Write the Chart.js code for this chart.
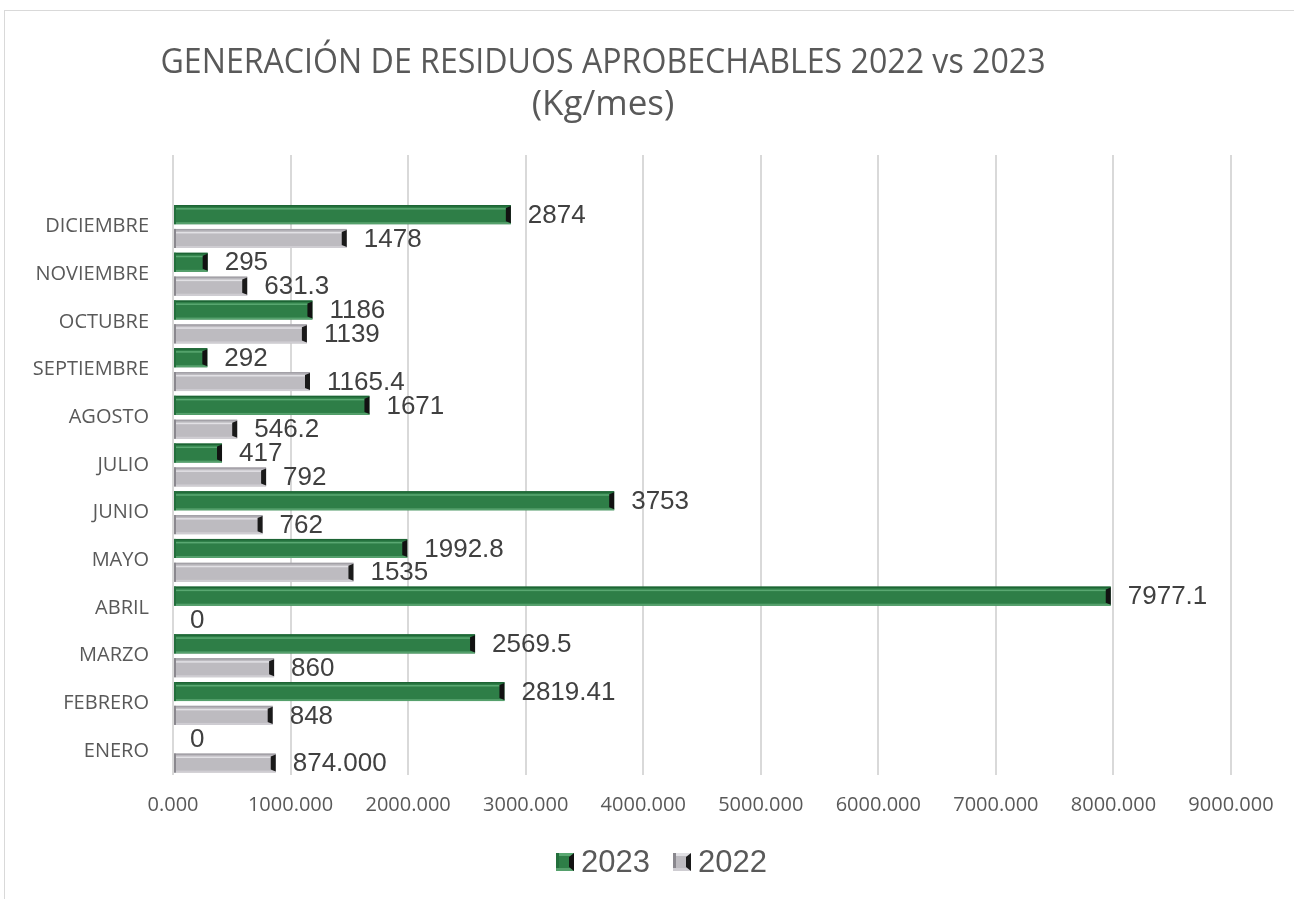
<!DOCTYPE html>
<html><head><meta charset="utf-8">
<script src="https://cdn.jsdelivr.net/npm/chart.js@4.4.1/dist/chart.umd.min.js"></script>
<style>
html,body{margin:0;padding:0;background:#fff;overflow:hidden;}
#frame{position:absolute;left:4px;top:10px;width:1400px;height:1000px;border:1.5px solid #d9d9d9;box-sizing:border-box;}
#wrap{position:absolute;left:0;top:0;width:1294px;height:899px;}
</style></head><body>
<div id="frame"></div>
<div id="wrap"><canvas id="c" width="1294" height="899"></canvas></div>
<script>
const months = ['ENERO','FEBRERO','MARZO','ABRIL','MAYO','JUNIO','JULIO','AGOSTO','SEPTIEMBRE','OCTUBRE','NOVIEMBRE','DICIEMBRE'];
const values2023 = [0, 2819.41, 2569.5, 7977.1, 1992.8, 3753, 417, 1671, 292, 1186, 295, 2874];
const values2022 = [874, 848, 860, 0, 1535, 762, 792, 546.2, 1165.4, 1139, 631.3, 1478];
const labels2023 = ['0','2819.41','2569.5','7977.1','1992.8','3753','417','1671','292','1186','295','2874'];
const labels2022 = ['874.000','848','860','0','1535','762','792','546.2','1165.4','1139','631.3','1478'];
const xTickLabels = ['0.000','1000.000','2000.000','3000.000','4000.000','5000.000','6000.000','7000.000','8000.000','9000.000'];
const titleLines = ['GENERACIÓN DE RESIDUOS APROBECHABLES 2022 vs 2023','(Kg/mes)'];
const seriesNames = ['2023','2022'];

// top row is an empty category, then months from DICIEMBRE down to ENERO
const cats = [''].concat(months.slice().reverse());
const d2023 = [null].concat(values2023.slice().reverse());
const d2022 = [null].concat(values2022.slice().reverse());
const l2023 = [''].concat(labels2023.slice().reverse());
const l2022 = [''].concat(labels2022.slice().reverse());
const dataLabels = [l2023, l2022];

const bevel = [
  {top:'#1d6434', hi:'#5aa872', bot:'#55a06c', left:'#236f3c', cap:'#121212'},
  {top:'#a3a1a7', hi:'#e2e1e5', bot:'#cfcdd2', left:'#8a888e', cap:'#1a1a1a'}
];

const decoPlugin = {
  id:'deco',
  afterDatasetsDraw(chart){
    const ctx = chart.ctx;
    ctx.save();
    chart.data.datasets.forEach((ds, di) => {
      const meta = chart.getDatasetMeta(di);
      const b = bevel[di];
      meta.data.forEach((el, i) => {
        const v = ds.data[i];
        if (v === null || v === undefined) return;
        const p = el.getProps(['x','y','base','height'], true);
        const top = p.y - p.height/2, bot = p.y + p.height/2;
        const l = Math.min(p.base, p.x), r = Math.max(p.base, p.x);
        if (v > 0) {
          ctx.fillStyle = b.top; ctx.fillRect(l, top, r-l, 1.5);
          ctx.fillStyle = b.hi; ctx.fillRect(l+2, top+3, r-l-4, 1.5);
          ctx.fillStyle = b.bot; ctx.fillRect(l, bot-2, r-l, 2);
          ctx.fillStyle = b.left; ctx.fillRect(l, top, 2, p.height);
          ctx.fillStyle = b.cap;
          ctx.beginPath();
          ctx.moveTo(r-5, top+3); ctx.lineTo(r, top+1); ctx.lineTo(r, bot-1); ctx.lineTo(r-5, bot-3);
          ctx.closePath(); ctx.fill();
        }
        ctx.fillStyle = '#404040';
        ctx.font = '26px "Liberation Sans", Arial, sans-serif';
        ctx.textAlign = 'left'; ctx.textBaseline = 'middle';
        ctx.fillText(dataLabels[di][i], r + 17, p.y + 1);
      });
    });
    ctx.restore();
  },
  afterDraw(chart){
    const ctx = chart.ctx;
    ctx.save();
    // title
    ctx.fillStyle = '#595959';
    ctx.textAlign = 'center'; ctx.textBaseline = 'middle';
    ctx.font = '35px "Open Sans", sans-serif';
    ctx.fillText(titleLines[0], 603, 63, 885);
    ctx.fillText(titleLines[1], 603, 105);
    // legend (built from the datasets)
    const xs = [556, 673], cy = 862, s = 18;
    chart.data.datasets.forEach((ds, di) => {
      const x = xs[di], y = cy - s/2;
      const b = bevel[di];
      ctx.fillStyle = ds.backgroundColor; ctx.fillRect(x, y, s, s);
      ctx.fillStyle = b.hi; ctx.fillRect(x, y, s, 3);
      ctx.fillStyle = b.left; ctx.fillRect(x, y, 3, s);
      ctx.fillStyle = b.bot; ctx.fillRect(x, y+s-3, s, 3);
      ctx.fillStyle = b.cap;
      ctx.beginPath(); ctx.moveTo(x+s-5, y+4); ctx.lineTo(x+s, y); ctx.lineTo(x+s, y+s); ctx.lineTo(x+s-5, y+s-4); ctx.closePath(); ctx.fill();
      ctx.fillStyle = '#595959';
      ctx.textAlign = 'left'; ctx.textBaseline = 'middle';
      ctx.font = '31px "Liberation Sans", Arial, sans-serif';
      ctx.fillText(ds.label, x + s + 7, cy + 1);
    });
    ctx.restore();
  }
};

new Chart(document.getElementById('c'), {
  type:'bar',
  data:{
    labels:cats,
    datasets:[
      {label:seriesNames[0], data:d2023, backgroundColor:'#2E7E47', borderWidth:0, categoryPercentage:1, barPercentage:0.8},
      {label:seriesNames[1], data:d2022, backgroundColor:'#BDBBC0', borderWidth:0, categoryPercentage:1, barPercentage:0.8}
    ]
  },
  options:{
    indexAxis:'y',
    responsive:false,
    animation:false,
    layout:{padding:{left:20, right:63, top:155, bottom:61}},
    plugins:{
      title:{display:false},
      tooltip:{enabled:false},
      legend:{display:false}
    },
    scales:{
      x:{
        min:0, max:9000,
        ticks:{stepSize:1000, autoSkip:false, maxRotation:0, padding:18, color:'#595959',
          font:{family:'"Open Sans", sans-serif', size:20},
          callback:(v, i) => xTickLabels[i]},
        grid:{color:'#d9d9d9', lineWidth:2, drawTicks:false},
        border:{display:false},
        afterFit(s){ s.height = 63; }
      },
      y:{
        ticks:{autoSkip:false, padding:24, color:'#595959',
          font:{family:'"Open Sans", sans-serif', size:20}},
        grid:{display:false, drawTicks:false},
        border:{display:false},
        afterFit(s){ s.width = 153; }
      }
    }
  },
  plugins:[decoPlugin]
});
</script>
</body></html>
